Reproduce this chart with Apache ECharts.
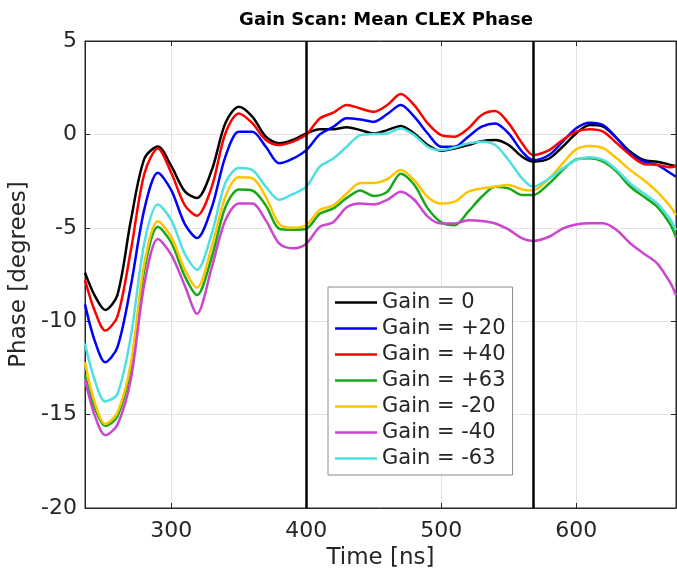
<!DOCTYPE html>
<html>
<head>
<meta charset="utf-8">
<title>Gain Scan: Mean CLEX Phase</title>
<script src="https://cdn.jsdelivr.net/npm/echarts@6/dist/echarts.min.js"></script>
<style>
	html, body { margin: 0; padding: 0; background: #fff; }
	#chart_content { width: 677px; height: 570px; }
</style>
</head>
<body>
<div id="chart_content"></div>
<script>
// 时间轴 (ns)
var time_ns = [236, 243, 251, 260, 270, 280, 290, 300, 310, 319, 330, 340, 350, 360, 370, 380, 390, 400, 410, 420,
	430, 440, 450, 460, 470, 480, 490, 500, 510, 520, 530, 540, 550, 560, 568, 580, 590, 600, 610, 620,
	630, 640, 650, 660, 670, 674];

// 各增益下的相位 (degrees)
var gain_0 = [-7.4, -8.6, -9.4, -8.6, -4.6, -1.3, -0.65, -1.7, -3.05, -3.4, -1.9, 0.6, 1.48, 0.95, -0.12, -0.48, -0.3, 0.05, 0.27, 0.27,
	0.38, 0.23, 0.05, 0.23, 0.45, 0.05, -0.57, -0.88, -0.75, -0.57, -0.36, -0.3, -0.57, -1.2, -1.46, -1.29, -0.66, 0.05, 0.5, 0.42,
	-0.2, -0.92, -1.37, -1.46, -1.63, -1.69];
var gain_p20 = [-9.1, -11.0, -12.2, -11.4, -8.1, -4.0, -2.05, -3.0, -4.8, -5.55, -3.9, -1.2, 0.14, 0.14, -0.66, -1.55, -1.3, -0.84, 0.0, 0.41,
	0.86, 0.8, 0.68, 1.09, 1.57, 0.95, 0.05, -0.66, -0.66, -0.12, 0.41, 0.59, 0.05, -0.93, -1.38, -1.1, -0.39, 0.33, 0.63, 0.5,
	-0.2, -1.0, -1.45, -1.63, -2.08, -2.26];
var gain_p40 = [-7.8, -9.4, -10.5, -9.75, -6.2, -2.1, -0.75, -2.07, -3.8, -4.35, -2.8, 0.05, 1.12, 0.6, -0.3, -0.57, -0.39, 0.0, 0.85, 1.16,
	1.57, 1.39, 1.21, 1.57, 2.16, 1.57, 0.59, -0.04, -0.12, 0.32, 1.04, 1.25, 0.59, -0.48, -1.1, -0.84, -0.3, 0.15, 0.28, 0.15,
	-0.47, -1.1, -1.58, -1.63, -1.76, -1.69];
var gain_p63 = [-12.9, -14.6, -15.6, -15.1, -12.5, -7.25, -4.95, -5.8, -7.6, -8.6, -6.55, -3.9, -2.95, -3.0, -3.8, -5.05, -5.1, -5.05, -4.25, -3.96,
	-3.4, -3.0, -3.3, -3.07, -2.1, -2.7, -3.96, -4.7, -4.86, -4.14, -3.34, -2.8, -2.89, -3.25, -3.25, -2.63, -1.91, -1.34, -1.28, -1.46,
	-1.99, -2.79, -3.33, -3.87, -4.85, -5.5];
var gain_m20 = [-12.2, -14.3, -15.5, -14.9, -12.25, -6.9, -4.65, -5.5, -7.25, -8.2, -6.0, -3.35, -2.3, -2.35, -3.35, -4.8, -5.0, -4.85, -4.05, -3.8,
	-3.16, -2.6, -2.6, -2.4, -1.9, -2.45, -3.35, -3.7, -3.6, -3.07, -2.89, -2.8, -2.71, -2.95, -3.0, -2.36, -1.55, -0.8, -0.62, -0.74,
	-1.28, -1.9, -2.44, -3.06, -3.87, -4.31];
var gain_m40 = [-13.1, -15.0, -16.1, -15.55, -13.1, -8.0, -5.6, -6.45, -8.1, -9.6, -7.1, -4.6, -3.7, -3.7, -4.6, -5.85, -6.1, -5.85, -4.95, -4.7,
	-3.9, -3.7, -3.75, -3.5, -3.07, -3.5, -4.4, -4.77, -4.77, -4.6, -4.64, -4.77, -5.1, -5.57, -5.7, -5.48, -5.04, -4.82, -4.76, -4.76,
	-5.12, -5.83, -6.37, -6.9, -7.97, -8.6];
var gain_m63 = [-11.2, -13.1, -14.3, -13.9, -10.8, -5.8, -3.75, -4.6, -6.4, -7.25, -5.3, -2.6, -1.8, -1.9, -2.8, -3.5, -3.2, -2.8, -1.73, -1.29,
	-0.66, -0.04, 0.02, 0.05, 0.32, -0.04, -0.66, -0.84, -0.7, -0.48, -0.39, -0.57, -1.38, -2.36, -2.8, -2.36, -1.82, -1.37, -1.22, -1.37,
	-1.9, -2.62, -3.15, -3.69, -4.58, -5.12];

var series_names = ["Gain = 0", "Gain = +20", "Gain = +40", "Gain = +63", "Gain = -20", "Gain = -40", "Gain = -63"];
var series_values = [gain_0, gain_p20, gain_p40, gain_p63, gain_m20, gain_m40, gain_m63];
var series_colors = ["#000000", "#0000ff", "#ff0000", "#16a816", "#ffc400", "#cc44d0", "#4ee0e0"];

// 竖直参考线
var marker_times = [400, 568];

var y_ticks = { min: -20, max: 5, step: 5 };
var x_range = { min: 236, max: 674 };

var text_color = "#262626";
var font_name = "DejaVu Sans";

//组装折线
function build_series() {
	var list = [];
	for (var i = 0; i < series_names.length; i++) {
		var pts = [];
		for (var j = 0; j < time_ns.length; j++) {
			pts.push([time_ns[j], series_values[i][j]]);
		}
		list.push({
			name: series_names[i],
			type: "line",
			data: pts,
			symbol: "none",
			smooth: 0.3,
			z: 3,
			color: series_colors[i],
			lineStyle: { color: series_colors[i], width: 2.5 }
		});
	}
	// 参考线挂在第一条线上
	var lines = [];
	for (var k = 0; k < marker_times.length; k++) {
		lines.push({ xAxis: marker_times[k] });
	}
	list[0].markLine = {
		silent: true,
		symbol: "none",
		label: { show: false },
		lineStyle: { color: "#000", width: 2.5, type: "solid" },
		data: lines
	};
	return list;
}

var chart = echarts.init(document.getElementById("chart_content"));
var tick_style = { inside: true, length: 5, lineStyle: { color: text_color } };
var option = {
	animation: false,
	backgroundColor: "#fff",
	textStyle: { fontFamily: font_name },
	title: {
		text: "Gain Scan: Mean CLEX Phase",
		left: 381,
		top: 6,
		textAlign: "center",
		textStyle: { fontFamily: font_name, fontSize: 18, fontWeight: "bold", color: "#000" }
	},
	grid: {
		left: 85, right: 1, top: 41, bottom: 62,
		outerBoundsMode: "none",
		show: true,
		borderColor: text_color,
		borderWidth: 1,
		backgroundColor: "#fff"
	},
	legend: {
		orient: "vertical",
		left: 328,
		top: 287,
		padding: [5, 7, 6, 7],
		icon: "rect",
		itemWidth: 42,
		itemHeight: 2.5,
		itemGap: 5,
		backgroundColor: "#fff",
		borderColor: "#8c8c8c",
		borderWidth: 1,
		borderRadius: 0,
		textStyle: { fontFamily: font_name, fontSize: 21, color: text_color, lineHeight: 21 },
		data: series_names
	},
	xAxis: [{
		type: "value",
		min: x_range.min,
		max: x_range.max,
		name: "Time [ns]",
		nameLocation: "middle",
		nameGap: 36,
		nameTextStyle: { fontFamily: font_name, fontSize: 23, color: text_color },
		axisLine: { onZero: false, lineStyle: { color: text_color } },
		axisTick: tick_style,
		axisLabel: {
			fontFamily: font_name, fontSize: 22, color: text_color, margin: 12,
			formatter: function (v) { return v % 100 === 0 ? String(v) : ""; }
		},
		splitLine: { show: true, lineStyle: { color: "#e3e3e3", width: 1 } }
	}, {
		type: "value",
		position: "top",
		min: x_range.min,
		max: x_range.max,
		axisLine: { onZero: false, lineStyle: { color: text_color } },
		axisTick: tick_style,
		axisLabel: { show: false },
		splitLine: { show: false }
	}],
	yAxis: [{
		type: "value",
		min: y_ticks.min,
		max: y_ticks.max,
		interval: y_ticks.step,
		name: "Phase [degrees]",
		nameLocation: "middle",
		nameGap: 45,
		nameTextStyle: { fontFamily: font_name, fontSize: 23, color: text_color },
		axisLine: { show: true, onZero: false, lineStyle: { color: text_color } },
		axisTick: tick_style,
		axisLabel: { fontFamily: font_name, fontSize: 22, color: text_color, margin: 8 },
		splitLine: { show: true, lineStyle: { color: "#e3e3e3", width: 1 } }
	}, {
		type: "value",
		position: "right",
		min: y_ticks.min,
		max: y_ticks.max,
		interval: y_ticks.step,
		axisLine: { show: true, onZero: false, lineStyle: { color: text_color } },
		axisTick: tick_style,
		axisLabel: { show: false },
		splitLine: { show: false }
	}],
	series: build_series()
};
chart.setOption(option);
</script>
</body>
</html>
